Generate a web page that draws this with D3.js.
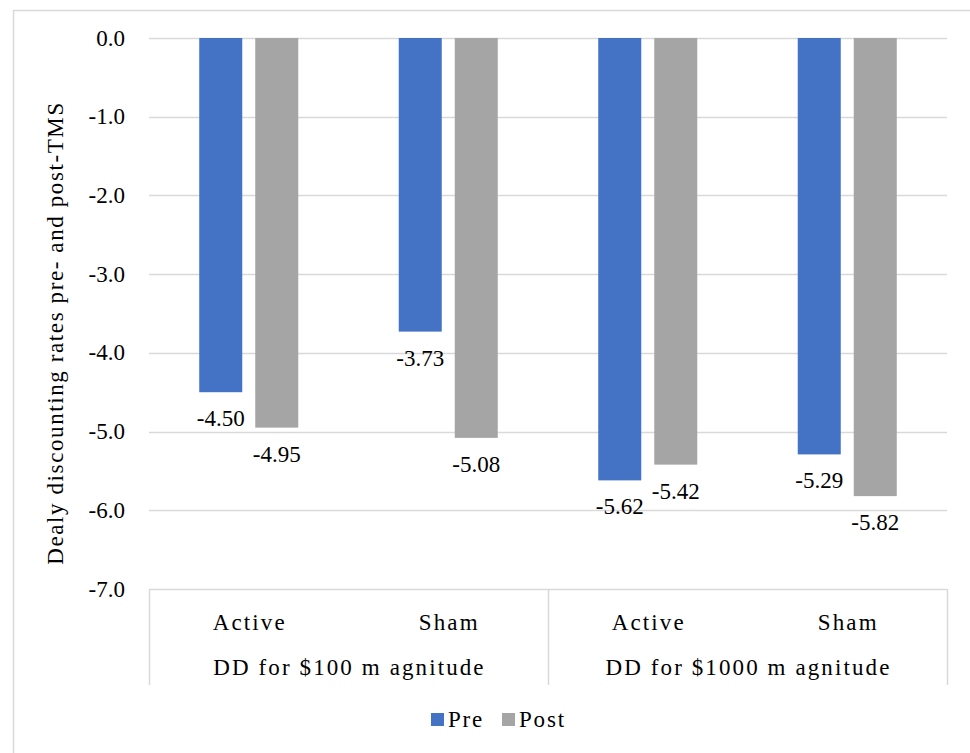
<!DOCTYPE html>
<html>
<head>
<meta charset="utf-8">
<script src="https://cdn.jsdelivr.net/npm/d3@7"></script>
<style>
  html, body { margin: 0; padding: 0; background: #fff; }
  svg { display: block; }
</style>
</head>
<body>
<svg id="chart" width="970" height="753"></svg>
<script>
// Delay discounting rates by condition and task magnitude
const categories = ["Active", "Sham", "Active", "Sham"];
const groups = ["DD for $100 m agnitude", "DD for $1000 m agnitude"];
const series = ["Pre", "Post"];
const preValues = [-4.50, -3.73, -5.62, -5.29];
const postValues = [-4.95, -5.08, -5.42, -5.82];
const yTicks = [0, -1, -2, -3, -4, -5, -6, -7];
const yTitle = "Dealy discounting rates pre- and post-TMS";

const colors = { Pre: "#4472C4", Post: "#A5A5A5" };
const gridColor = "#D9D9D9";
const fontFamily = "'Liberation Serif', 'Times New Roman', Times, 'DejaVu Serif', serif";

// hyphen-minus for negative numbers
const locale = d3.formatLocale({ decimal: ".", thousands: ",", grouping: [3], currency: ["$", ""], minus: "-" });
const fmt1 = locale.format(".1f");
const fmt2 = locale.format(".2f");

const svg = d3.select("#chart")
  .attr("font-family", fontFamily)
  .attr("font-size", 23)
  .attr("fill", "#000");
const plot = { left: 149, right: 947, top: 38, bottom: 589 };

// outer frame
svg.append("rect")
  .attr("x", 13.5).attr("y", 10.5)
  .attr("width", 980).attr("height", 780)
  .attr("fill", "none").attr("stroke", gridColor).attr("stroke-width", 1.5);

const x = d3.scaleBand()
  .domain(d3.range(categories.length))
  .range([plot.left, plot.right])
  .padding(0);

const xInner = d3.scaleBand()
  .domain(series)
  .range([0, x.bandwidth()])
  .paddingInner(0.232)
  .paddingOuter(0.897);

const y = d3.scaleLinear().domain([-7, 0]).range([plot.bottom, plot.top]);

// gridlines
svg.append("g").selectAll("line")
  .data(yTicks.filter(d => d !== -7))
  .join("line")
  .attr("x1", plot.left).attr("x2", plot.right)
  .attr("y1", d => Math.round(y(d)) + 0.5).attr("y2", d => Math.round(y(d)) + 0.5)
  .attr("stroke", gridColor).attr("stroke-width", 1.5);

// y tick labels
svg.append("g").selectAll("text")
  .data(yTicks)
  .join("text")
  .attr("x", 125)
  .attr("y", d => y(d))
  .attr("text-anchor", "end")
  .attr("dominant-baseline", "central")
  .text(d => fmt1(d));

// y axis title
svg.append("text")
  .attr("transform", "translate(63,333) rotate(-90)")
  .attr("text-anchor", "middle")
  .attr("letter-spacing", 1.6)
  .text(yTitle);

// bars
const rows = categories.map((c, i) => ({ i, Pre: preValues[i], Post: postValues[i] }));
const barG = svg.append("g");
series.forEach(s => {
  barG.selectAll("rect." + s)
    .data(rows)
    .join("rect")
    .attr("class", s)
    .attr("x", d => x(d.i) + xInner(s))
    .attr("width", xInner.bandwidth())
    .attr("y", y(0))
    .attr("height", d => y(d[s]) - y(0))
    .attr("fill", colors[s]);

  // value labels below bar ends
  barG.selectAll("text." + s)
    .data(rows)
    .join("text")
    .attr("class", s)
    .attr("x", d => x(d.i) + xInner(s) + xInner.bandwidth() / 2)
    .attr("y", d => y(d[s]) + 26.5)
    .attr("text-anchor", "middle")
    .attr("dominant-baseline", "central")
    .text(d => fmt2(d[s]));
});

// category axis (two levels)
const axisG = svg.append("g");
axisG.append("line")
  .attr("x1", plot.left).attr("x2", plot.right)
  .attr("y1", plot.bottom + 0.5).attr("y2", plot.bottom + 0.5)
  .attr("stroke", gridColor).attr("stroke-width", 1.5);

const groupEdges = [0, 2, 4].map(i => i < categories.length ? x(i) : plot.right);
axisG.selectAll("line.sep")
  .data(groupEdges)
  .join("line")
  .attr("class", "sep")
  .attr("x1", d => Math.round(d) + 0.5).attr("x2", d => Math.round(d) + 0.5)
  .attr("y1", plot.bottom).attr("y2", 685)
  .attr("stroke", gridColor).attr("stroke-width", 1.5);

axisG.selectAll("text.cat")
  .data(categories)
  .join("text")
  .attr("class", "cat")
  .attr("x", (d, i) => x(i) + x.bandwidth() / 2 + 1)
  .attr("y", 622)
  .attr("text-anchor", "middle")
  .attr("dominant-baseline", "central")
  .attr("letter-spacing", 2.1)
  .text(d => d);

axisG.selectAll("text.grp")
  .data(groups)
  .join("text")
  .attr("class", "grp")
  .attr("x", (d, i) => (groupEdges[i] + groupEdges[i + 1]) / 2 + 1)
  .attr("y", 667)
  .attr("text-anchor", "middle")
  .attr("dominant-baseline", "central")
  .attr("letter-spacing", 2.1)
  .text(d => d);

// legend
const legend = svg.append("g");
const legendItems = [{ s: "Pre", x: 431 }, { s: "Post", x: 502 }];
legendItems.forEach(it => {
  legend.append("rect")
    .attr("x", it.x).attr("y", 713)
    .attr("width", 13).attr("height", 13)
    .attr("fill", colors[it.s]);
  legend.append("text")
    .attr("x", it.x + 17).attr("y", 719)
    .attr("dominant-baseline", "central")
    .attr("letter-spacing", 1.8)
    .text(it.s);
});
</script>
</body>
</html>
